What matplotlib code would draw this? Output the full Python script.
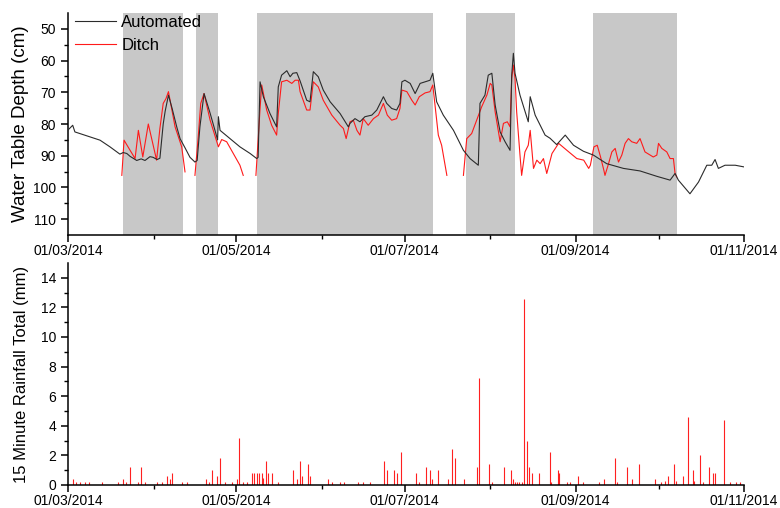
import numpy as np
import pandas as pd
import matplotlib
matplotlib.use('Agg')
import matplotlib.pyplot as plt
import matplotlib.dates as mdates

plt.rcParams['font.family'] = ['Liberation Sans', 'DejaVu Sans']

start = pd.Timestamp('2014-03-01')

# automated logger (days since 01/03/2014, depth cm)
auto_day = [0, 1.7, 2.5, 6, 11.6, 15.2, 18.8, 20.0, 21.3, 22.5, 24.9, 26.5, 27.9, 29.7,
            30.8, 32.3, 33.3, 34.5, 35.2, 36.4, 37.7, 39.4, 40.6, 42.4, 44.2, 46.0, 46.8,
            47.8, 49.3, 51.5, 53.9, 54.2, 54.5, 55.1, 58.7, 62.3, 66.0, 68.4, 68.9, 69.6,
            70.8, 73.2, 75.6, 76.2, 77.4, 79.3, 80.5, 81.5, 82.9, 84.1, 86.5, 87.7, 88.9,
            90.7, 92.5, 95.0, 98.6, 101.6, 102.2, 104.0, 105.8, 107.6, 110.1, 111.9, 114.3,
            115.5, 117.3, 119.1, 120.3, 121.0, 122.1, 124.0, 125.8, 127.6, 129.4, 131.2,
            132.2, 133.6, 136.0, 139.7, 143.3, 145.7, 148.7, 149.3, 151.1, 152.3, 153.6,
            154.8, 156.6, 158.4, 160.2, 160.8, 161.4, 162.0, 163.8, 166.8, 167.5, 169.3,
            172.9, 174.7, 177.1, 180.2, 183.2, 186.8, 190.4, 195.2, 201.3, 207.3, 213.4,
            218.2, 220.0, 221.2, 225.4, 228.5, 231.5, 233.3, 234.5, 235.7, 238.1, 241.8, 244.8]
auto_depth = [81.9, 80.4, 82.5, 83.5, 85.1, 87.2, 89.5, 89.0, 89.3, 90.2, 91.5, 91.0, 91.5, 90.3,
              90.5, 91.2, 90.8, 80.0, 76.0, 70.9, 75.0, 80.9, 84.6, 87.5, 90.5, 92.0, 91.5,
              80.9, 70.4, 76.6, 84.0, 85.0, 77.7, 82.0, 84.6, 87.2, 89.3, 90.9, 90.5, 66.7,
              71.4, 76.7, 80.9, 68.3, 64.6, 63.2, 65.1, 64.0, 63.8, 66.4, 72.5, 73.0, 63.5,
              65.1, 69.3, 73.0, 76.7, 80.9, 79.8, 78.3, 79.3, 77.7, 77.2, 75.6, 71.4,
              73.5, 75.1, 75.6, 73.5, 66.7, 66.2, 67.2, 70.4, 67.2, 66.7, 66.2,
              64.0, 73.0, 77.2, 82.0, 88.3, 90.9, 93.0, 73.5, 70.9, 64.6, 64.0,
              74.0, 82.5, 85.6, 88.3, 64.6, 57.7, 64.0, 70.9, 79.3, 71.4, 77.2,
              83.5, 84.5, 86.5, 83.5, 86.7, 88.6, 89.8, 92.5, 94.0, 94.8, 96.5,
              97.7, 95.6, 97.7, 102.0, 98.3, 93.0, 93.0, 91.2, 94.0, 93.0, 93.0, 93.5]

# ditch logger, four separate records
ditch_day = [
    [19.5, 20.3, 22.5, 24.3, 25.5, 27.1, 29.1, 32.1, 33.3, 34.5, 35.5, 36.4, 38.8, 41.2, 42.4],
    [46.0, 47.2, 48.1, 49.3, 51.5, 54.5, 55.7, 57.5, 59.9, 62.3, 63.5],
    [68.1, 69.6, 70.2, 72.0, 73.8, 75.6, 76.2, 77.4, 79.3, 81.1, 82.3, 83.5, 84.1, 86.5,
     87.7, 88.9, 90.7, 92.5, 95.6, 98.6, 99.8, 100.8, 102.2, 103.4, 104.7, 105.8, 107.0,
     108.8, 110.7, 112.5, 114.3, 115.7, 117.3, 119.1, 120.3, 121.0, 122.8, 124.6, 125.8,
     127.3, 129.4, 131.2, 132.2, 133.0, 134.2, 135.4, 137.3],
    [143.3, 144.5, 146.3, 148.1, 149.9, 151.8, 153.0, 153.6, 154.8, 156.6, 157.8, 159.2,
     160.2, 160.8, 161.4, 162.0, 162.6, 163.8, 164.4, 165.6, 166.8, 167.5, 168.7, 169.9,
     171.1, 172.3, 173.5, 175.4, 177.8, 180.8, 184.4, 186.9, 188.7, 189.3, 190.6, 191.8,
     193.0, 194.2, 194.6, 195.9, 197.1, 198.3, 199.5, 200.7, 201.9, 203.1, 204.3, 206.1,
     207.3, 209.1, 212.1, 213.4, 214.0, 215.2, 217.0, 218.2, 219.4, 220.0, 220.6],
]
ditch_depth = [
    [96.2, 85.1, 88.3, 90.9, 82.0, 90.4, 80.0, 91.4, 81.4, 73.5, 72.0, 69.8, 80.9, 87.2, 95.1],
    [96.2, 84.0, 73.5, 70.4, 78.8, 87.2, 84.9, 85.6, 89.3, 93.0, 96.2],
    [96.2, 75.1, 67.7, 75.6, 80.4, 83.5, 76.7, 66.7, 66.2, 67.2, 66.2, 66.2, 69.8, 75.6,
     75.6, 66.7, 68.3, 72.5, 77.2, 80.4, 81.4, 84.6, 79.3, 78.8, 82.0, 83.5, 78.3,
     80.4, 78.3, 77.2, 73.5, 77.2, 78.8, 78.3, 75.1, 69.3, 69.8, 72.5, 74.0,
     71.4, 70.2, 69.8, 67.7, 74.0, 83.5, 86.7, 96.2],
    [96.2, 84.6, 83.0, 78.8, 74.6, 70.9, 67.2, 67.7, 76.2, 85.6, 79.8, 79.3,
     80.9, 65.6, 61.4, 65.6, 76.2, 89.8, 96.2, 88.8, 86.7, 82.0, 94.0, 91.4,
     92.5, 90.9, 95.6, 89.3, 86.1, 88.3, 90.9, 91.4, 94.0, 93.0, 87.2, 86.7,
     90.4, 94.6, 96.2, 92.5, 88.8, 87.7, 92.0, 89.8, 86.1, 84.6, 85.6, 86.1,
     84.6, 88.8, 90.4, 89.8, 86.1, 87.7, 88.8, 90.9, 90.9, 95.6, 96.7],
]

# shaded periods (days since 01/03/2014)
shade_start = [20.0, 46.3, 68.4, 144.3, 190.2]
shade_end = [41.7, 54.3, 132.3, 162.1, 220.6]

# 15 minute rainfall totals (mm)
rain_day = [1.7, 3.0, 4.5, 6.0, 7.5, 12.2, 18.2, 19.8, 21.0, 22.5, 25.5, 26.3, 28.0, 32.1,
            34.0, 36.0, 37.0, 37.8, 41.2, 43.0, 50.0, 51.0, 52.1, 53.9, 55.1, 57.0, 59.3,
            61.4, 61.9, 63.5, 65.0, 66.6, 67.4, 68.4, 69.3, 70.2, 70.8, 71.6, 72.6, 73.8,
            76.0, 81.7, 82.9, 84.2, 84.7, 86.9, 87.7, 94.4, 95.5, 98.6, 100.0, 105.2, 107.0,
            109.5, 114.5, 115.5, 118.3, 119.4, 120.6, 126.1, 127.3, 129.8, 131.2, 131.8,
            134.2, 137.8, 139.3, 140.3, 143.5, 148.1, 149.0, 152.7, 153.5, 158.1, 160.4,
            161.2, 162.0, 162.8, 163.6, 164.5, 165.4, 166.5, 167.2, 168.1, 170.7, 174.7,
            175.2, 177.4, 178.0, 180.7, 182.0, 184.7, 186.5, 192.6, 194.3, 198.3, 199.0,
            202.7, 204.3, 207.1, 212.8, 215.0, 216.5, 217.6, 219.7, 220.5, 222.8, 224.6,
            226.4, 227.0, 229.1, 230.0, 232.3, 233.9, 234.5, 237.9, 240.0, 242.0, 243.5]
rain_mm = [0.4, 0.2, 0.2, 0.2, 0.2, 0.2, 0.2, 0.4, 0.2, 1.2, 0.2, 1.2, 0.2, 0.2,
           0.2, 0.6, 0.4, 0.8, 0.2, 0.2, 0.4, 0.2, 1.0, 0.6, 1.8, 0.2, 0.2,
           0.4, 3.2, 0.2, 0.2, 0.8, 0.8, 0.8, 0.8, 0.8, 0.5, 1.6, 0.8, 0.8,
           0.2, 1.0, 0.4, 1.6, 0.6, 1.4, 0.6, 0.4, 0.2, 0.2, 0.2, 0.2, 0.2,
           0.2, 1.6, 1.0, 1.0, 0.8, 2.2, 0.8, 0.2, 1.2, 1.0, 0.4,
           1.0, 0.4, 2.4, 1.8, 0.4, 1.2, 7.2, 1.4, 0.2, 1.2, 1.0,
           0.4, 0.2, 0.2, 0.2, 0.2, 12.6, 3.0, 1.2, 0.8, 0.8, 2.2,
           0.2, 1.0, 0.8, 0.2, 0.2, 0.6, 0.2, 0.2, 0.4, 1.8, 0.2,
           1.2, 0.4, 1.4, 0.4, 0.2, 0.3, 0.6, 1.4, 0.3, 0.6, 4.6,
           1.0, 0.3, 2.0, 0.2, 1.2, 0.8, 0.8, 4.4, 0.2, 0.2, 0.2]


def to_dates(days):
    return start + pd.to_timedelta(np.array(days), unit='D')


fig = plt.figure(figsize=(7.8, 5.08), dpi=100)
ax1 = fig.add_axes([0.0872, 0.5374, 0.8667, 0.437])
ax2 = fig.add_axes([0.0872, 0.0453, 0.8667, 0.437])

for s, e in zip(shade_start, shade_end):
    ax1.axvspan(to_dates([s])[0], to_dates([e])[0], color='#c8c8c8', lw=0, zorder=0)

ax1.plot(to_dates(auto_day), auto_depth, color='#2b2b2b', lw=0.8, label='Automated', zorder=3)
for i in range(len(ditch_day)):
    ax1.plot(to_dates(ditch_day[i]), ditch_depth[i], color='#ff1a1a', lw=0.8,
             label='Ditch' if i == 0 else None, zorder=2)

ax1.set_ylim(115, 45)
ax1.set_yticks([50, 60, 70, 80, 90, 100, 110])
ax1.set_yticks([55, 65, 75, 85, 95, 105], minor=True)
ax1.set_ylabel('Water Table Depth (cm)', fontsize=13.5)
ax1.legend(loc='upper left', bbox_to_anchor=(0.0, 1.02), frameon=False, fontsize=12,
           handlelength=2.5, handletextpad=0.3, labelspacing=0.45, borderaxespad=0)

ax2.vlines(to_dates(rain_day), 0, rain_mm, color='#ff2020', lw=0.8)
ax2.set_ylim(0, 15)
ax2.set_yticks(range(0, 15, 2))
ax2.set_yticks(range(1, 15, 2), minor=True)
ax2.set_ylabel('15 Minute Rainfall Total (mm)', fontsize=12)

for ax in (ax1, ax2):
    ax.set_xlim(pd.Timestamp('2014-03-01'), pd.Timestamp('2014-11-01'))
    ax.xaxis.set_major_locator(mdates.MonthLocator(bymonth=[3, 5, 7, 9, 11]))
    ax.xaxis.set_minor_locator(mdates.MonthLocator(bymonth=[4, 6, 8, 10]))
    ax.xaxis.set_major_formatter(mdates.DateFormatter('%d/%m/%Y'))
    ax.spines['top'].set_visible(False)
    ax.spines['right'].set_visible(False)
    ax.spines['left'].set_linewidth(1.1)
    ax.spines['bottom'].set_linewidth(1.1)
    ax.tick_params(which='major', length=5, width=1.1, labelsize=10, direction='out')
    ax.tick_params(axis='x', which='major', pad=1.5)
    ax.tick_params(which='minor', length=3, width=1.0, direction='out')
    ax.yaxis.set_label_coords(-0.058, 0.5)

fig.savefig('out.png', dpi=100)
